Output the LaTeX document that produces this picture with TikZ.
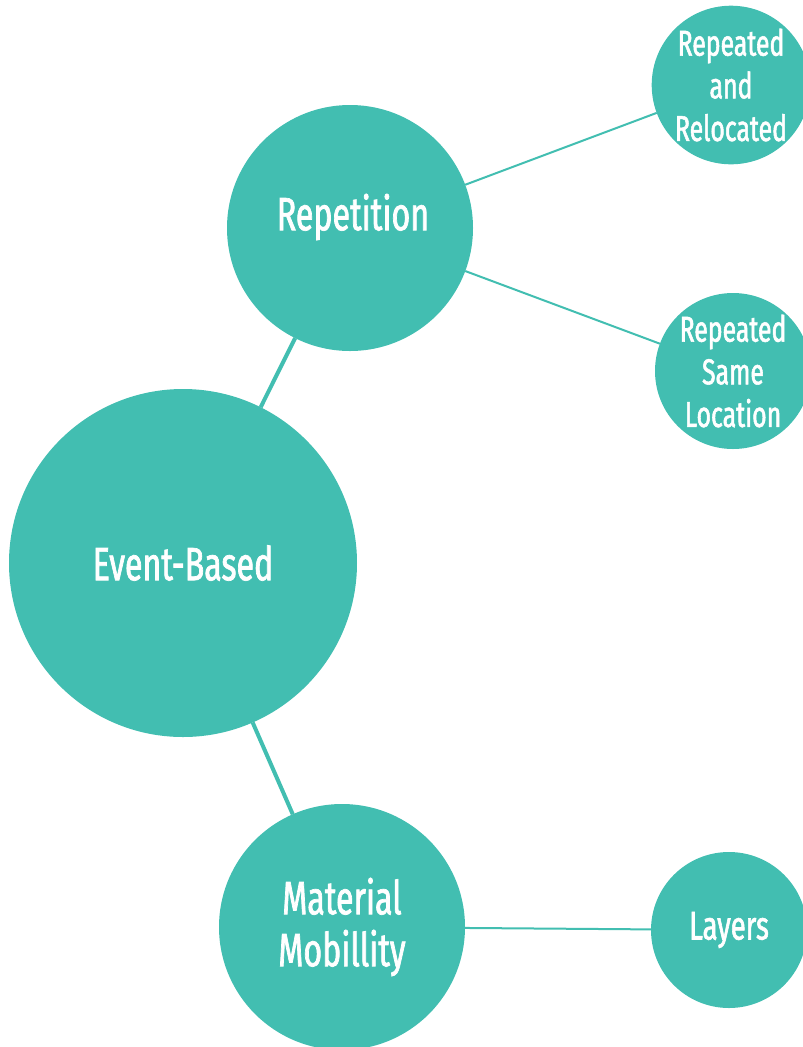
\documentclass[tikz,border=0pt]{standalone}
\usepackage{fontspec}
\usepackage{tikz}
\usetikzlibrary{positioning}
\newfontfamily\ballfont[FakeStretch=0.69, FakeBold=1.5]{Fira Sans}
\definecolor{ballteal}{HTML}{42BEB1}
\tikzset{
  ball/.style     = {circle, fill=ballteal, draw=none, inner sep=0pt, outer sep=0pt,
                     text=white, align=center},
  bigball/.style  = {ball, minimum size=261pt, font=\ballfont\fontsize{35}{39}\selectfont},
  midball/.style  = {ball, minimum size=184.5pt, font=\ballfont\fontsize{35}{39}\selectfont},
  smallball/.style= {ball, minimum size=117pt, font=\ballfont\fontsize{27}{32}\selectfont},
}

\begin{document}
\begin{tikzpicture}[
    x=0.75pt, y=-0.75pt,
    link/.style    ={draw=ballteal, line width=3pt},
    thinlink/.style={draw=ballteal, line width=1.5pt},
    balltext/.style={text=white, inner sep=0pt, font=\ballfont\fontsize{35}{39}\selectfont}
  ]
  \useasboundingbox (0,0) rectangle (803,1047);

  %% --- Main circles --------------------------------------------------
  \node[bigball] (event) at (183,563) {Event-Based};
  \node[midball] (rep) at (350,228) {};
  \node[balltext] (reptext) at (353,217) {Repetition};
  \node[midball] (mat) at (342,927) {Material\\Mobillity};

  %% --- Leaf circles on the right -------------------------------------
  \node[smallball] (reloc) at (731,85) {Repeated\\and\\Relocated};
  \node[smallball] (same) at (733,371) {Repeated\\Same\\Location};
  \node[smallball, font=\ballfont\fontsize{30}{34}\selectfont] (layers) at (729,930) {Layers};

  %% --- Connectors ----------------------------------------------------
  \draw[link] (rep) -- (event);
  \draw[link] (event) -- (mat);
  \draw[thinlink] (rep) -- (reloc);
  \draw[thinlink] (rep) -- (same);
  \draw[thinlink] (mat) -- (layers);
\end{tikzpicture}
\end{document}
